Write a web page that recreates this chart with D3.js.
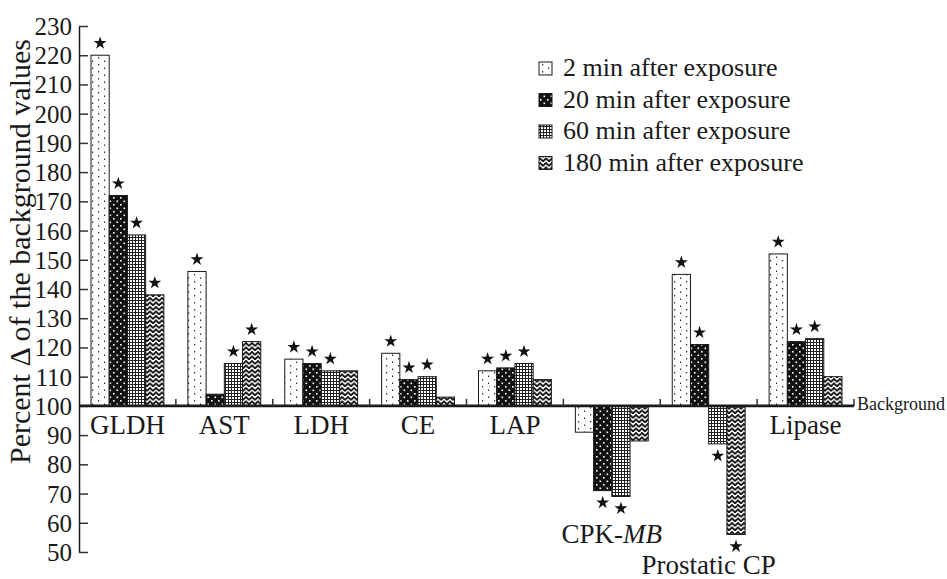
<!DOCTYPE html>
<html>
<head>
<meta charset="utf-8">
<script src="https://cdn.jsdelivr.net/npm/d3@7"></script>
<style>
  html, body { margin: 0; padding: 0; background: #fff; }
  svg { display: block; font-family: "Liberation Serif", "Times New Roman", serif; }
</style>
</head>
<body>
<svg id="chart" width="947" height="579"></svg>
<script>
// ---------- data ----------
const categories = ["GLDH", "AST", "LDH", "CE", "LAP", "CPK-MB", "Prostatic CP", "Lipase"];
const seriesNames = ["2 min after exposure", "20 min after exposure", "60 min after exposure", "180 min after exposure"];
const values2   = [220, 146, 116, 118, 112, 91, 145, 152];
const values20  = [172, 104, 114.5, 109, 113, 71, 121, 122];
const values60  = [158.5, 114.5, 112, 110, 114.5, 69, 87, 123];
const values180 = [138, 122, 112, 103, 109, 88, 56, 110];
const signif2   = [1, 1, 1, 1, 1, 0, 1, 1];
const signif20  = [1, 0, 1, 1, 1, 1, 1, 1];
const signif60  = [1, 1, 1, 1, 1, 1, 1, 1];
const signif180 = [1, 1, 0, 0, 0, 0, 1, 0];
const yTicks = [50, 60, 70, 80, 90, 100, 110, 120, 130, 140, 150, 160, 170, 180, 190, 200, 210, 220, 230];
const baselineValue = 100;
const yTitle = "Percent \u0394 of the background values";
const baselineLabel = "Background";

const seriesValues = [values2, values20, values60, values180];
const seriesSignif = [signif2, signif20, signif60, signif180];

// ---------- layout ----------
const svg = d3.select("#chart");
const plotL = 79, plotR = 854, plotT = 26, plotB = 552;
const ink = "#1a1a1a";
const serif = "'Liberation Serif', 'Times New Roman', serif";

const x0 = d3.scaleBand().domain(categories).range([plotL, plotR]).paddingInner(0).paddingOuter(0);
const bw = x0.bandwidth();
const x1 = d3.scaleBand().domain(d3.range(4)).range([12, bw - 12]).padding(0);
const y = d3.scaleLinear().domain([50, 230]).range([plotB, plotT]);

// ---------- patterns ----------
const defs = svg.append("defs");
const p0 = defs.append("pattern").attr("id", "pat0").attr("patternUnits", "userSpaceOnUse")
  .attr("width", 12).attr("height", 7);
p0.append("rect").attr("width", 12).attr("height", 7).attr("fill", "#fff");
p0.append("rect").attr("x", 2).attr("y", 1).attr("width", 1.2).attr("height", 1.5).attr("fill", "#333");
p0.append("rect").attr("x", 8).attr("y", 4.5).attr("width", 1.2).attr("height", 1.5).attr("fill", "#333");
const p1 = defs.append("pattern").attr("id", "pat1").attr("patternUnits", "userSpaceOnUse")
  .attr("width", 7).attr("height", 7);
p1.append("rect").attr("width", 7).attr("height", 7).attr("fill", "#111");
p1.append("rect").attr("x", 1).attr("y", 1).attr("width", 1.6).attr("height", 1.6).attr("fill", "#fff");
p1.append("rect").attr("x", 4.5).attr("y", 4.5).attr("width", 1.6).attr("height", 1.6).attr("fill", "#fff");
const p2 = defs.append("pattern").attr("id", "pat2").attr("patternUnits", "userSpaceOnUse")
  .attr("width", 3).attr("height", 3);
p2.append("rect").attr("width", 3).attr("height", 3).attr("fill", "#fff");
p2.append("rect").attr("width", 3).attr("height", 1).attr("fill", "#222");
p2.append("rect").attr("width", 1).attr("height", 3).attr("fill", "#222");
const p3 = defs.append("pattern").attr("id", "pat3").attr("patternUnits", "userSpaceOnUse")
  .attr("width", 6).attr("height", 4.5);
p3.append("rect").attr("width", 6).attr("height", 4.5).attr("fill", "#fff");
p3.append("path").attr("d", "M-1.5,2.5 L0,1 L3,3.8 L6,1 L7.5,2.5").attr("fill", "none")
  .attr("stroke", "#111").attr("stroke-width", 1.9);

// ---------- y axis ----------
const yAxis = d3.axisLeft(y).tickValues(yTicks).tickSizeInner(-9).tickSizeOuter(0).tickPadding(7);
const gy = svg.append("g").attr("transform", `translate(${plotL},0)`).call(yAxis);
gy.select(".domain").attr("stroke", ink).attr("stroke-width", 1.5);
gy.selectAll(".tick line").attr("stroke", "#333").attr("stroke-width", 1.5);
gy.selectAll(".tick text").attr("font-size", 25).attr("fill", ink)
  .attr("font-family", serif).attr("dy", "0.34em");

svg.append("text")
  .attr("transform", `translate(30,${(26 + 477) / 2}) rotate(-90)`)
  .attr("text-anchor", "middle").attr("font-size", 30).attr("fill", ink)
  .attr("font-family", serif)
  .text(yTitle);

// ---------- bars ----------
const gBars = svg.append("g");
seriesValues.forEach((vals, s) => {
  gBars.selectAll(`rect.s${s}`).data(vals.map((v, i) => ({ v, i })))
    .join("rect")
    .attr("class", `s${s}`)
    .attr("x", d => x0(categories[d.i]) + x1(s))
    .attr("width", x1.bandwidth())
    .attr("y", d => y(Math.max(d.v, baselineValue)))
    .attr("height", d => Math.abs(y(d.v) - y(baselineValue)))
    .attr("fill", `url(#pat${s})`)
    .attr("stroke", ink).attr("stroke-width", 1);
});

const star = d3.symbol().type(d3.symbolStar).size(52);
seriesValues.forEach((vals, s) => {
  const pts = vals.map((v, i) => ({ v, i, sig: seriesSignif[s][i] })).filter(d => d.sig);
  gBars.selectAll(`path.st${s}`).data(pts).join("path")
    .attr("class", `st${s}`)
    .attr("d", star)
    .attr("fill", "#111")
    .attr("transform", d => {
      const cx = x0(categories[d.i]) + x1(s) + x1.bandwidth() / 2;
      const cy = d.v >= baselineValue ? y(d.v) - 12 : y(d.v) + 12;
      return `translate(${cx},${cy})`;
    });
});

// ---------- baseline ----------
svg.append("line").attr("x1", plotL).attr("x2", plotR)
  .attr("y1", y(baselineValue)).attr("y2", y(baselineValue))
  .attr("stroke", ink).attr("stroke-width", 2.6);
svg.append("g").selectAll("line").data(categories)
  .join("line")
  .attr("x1", d => x0(d) + bw).attr("x2", d => x0(d) + bw)
  .attr("y1", y(baselineValue)).attr("y2", y(baselineValue) - 7)
  .attr("stroke", "#333").attr("stroke-width", 1.5);
svg.append("text").attr("x", plotR + 3).attr("y", y(baselineValue) + 4)
  .attr("font-size", 18).attr("fill", ink).attr("font-family", serif).text(baselineLabel);

// ---------- category labels ----------
const labelBaseline = { "CPK-MB": 543, "Prostatic CP": 574 };
const gLab = svg.append("g");
categories.forEach(c => {
  const t = gLab.append("text")
    .attr("x", x0(c) + bw / 2)
    .attr("y", labelBaseline[c] || 434)
    .attr("text-anchor", "middle").attr("font-size", 27).attr("fill", ink)
    .attr("font-family", serif);
  if (c === "CPK-MB") {
    t.append("tspan").text("CPK-");
    t.append("tspan").attr("font-style", "italic").text("MB");
  } else {
    t.text(c);
  }
});

// ---------- legend ----------
const legendBaselines = [76, 107.5, 139, 170.5];
const gLeg = svg.append("g");
seriesNames.forEach((name, s) => {
  const by = legendBaselines[s];
  gLeg.append("rect").attr("x", 539).attr("y", by - 14).attr("width", 13).attr("height", 13)
    .attr("fill", `url(#pat${s})`).attr("stroke", ink).attr("stroke-width", 1);
  gLeg.append("text").attr("x", 563).attr("y", by)
    .attr("font-size", 26).attr("fill", ink).attr("font-family", serif).text(name);
});
</script>
</body>
</html>
